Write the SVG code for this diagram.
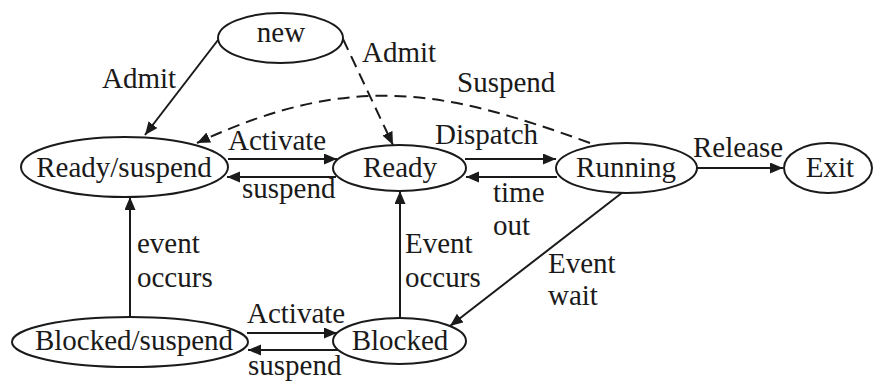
<svg xmlns="http://www.w3.org/2000/svg" width="873" height="383" viewBox="0 0 873 383">
<defs>
<marker id="ah" markerUnits="userSpaceOnUse" markerWidth="14" markerHeight="12" refX="13" refY="5.5" orient="auto">
<path d="M0,0 L13,5.5 L0,11 z" fill="#1a1a1a"/>
</marker>
<style>
.n{fill:#fff;stroke:#1a1a1a;stroke-width:2}
.t{font-family:"Liberation Serif","Times New Roman",serif;font-size:29px;fill:#1a1a1a}
.c{text-anchor:middle}
.e{fill:none;stroke:#1a1a1a;stroke-width:2;marker-end:url(#ah)}
.d{stroke-dasharray:12 7}
</style>
</defs>
<rect width="873" height="383" fill="#fff"/>
<g id="connectors">
<line class="e" x1="218" y1="40" x2="145" y2="135"/>
<line class="e d" x1="343" y1="39" x2="393" y2="145"/>
<path class="e d" d="M590,143 C449,92 355,69 197,143"/>
<line class="e" x1="228" y1="159" x2="337" y2="159"/>
<line class="e" x1="336" y1="177" x2="227" y2="177"/>
<line class="e" x1="465" y1="159" x2="556" y2="159"/>
<line class="e" x1="557" y1="177" x2="466" y2="177"/>
<line class="e" x1="697" y1="168" x2="783" y2="168"/>
<line class="e" x1="623" y1="192" x2="450" y2="326"/>
<line class="e" x1="400" y1="318" x2="400" y2="191"/>
<line class="e" x1="130" y1="317" x2="130" y2="197"/>
<line class="e" x1="247" y1="333" x2="337" y2="333"/>
<line class="e" x1="338" y1="350" x2="248" y2="350"/>
</g>
<g id="labels">
<text class="t" x="102" y="88">Admit</text>
<text class="t" x="362" y="62">Admit</text>
<text class="t" x="457" y="92">Suspend</text>
<text class="t" x="228" y="150">Activate</text>
<text class="t" x="242" y="198">suspend</text>
<text class="t" x="435" y="144">Dispatch</text>
<text class="t" x="693" y="157">Release</text>
<text class="t" x="493" y="202">time</text>
<text class="t" x="493" y="235">out</text>
<text class="t" x="548" y="273">Event</text>
<text class="t" x="548" y="305">wait</text>
<text class="t" x="405" y="253">Event</text>
<text class="t" x="405" y="287">occurs</text>
<text class="t" x="137" y="253">event</text>
<text class="t" x="137" y="287">occurs</text>
<text class="t" x="247" y="323">Activate</text>
<text class="t" x="248" y="375">suspend</text>
</g>
<g id="node-new"><ellipse class="n" cx="280.5" cy="38" rx="62.5" ry="25"/><text class="t c" x="281" y="42">new</text></g>
<g id="node-ready-suspend"><ellipse class="n" cx="124.5" cy="167" rx="103.5" ry="30"/><text class="t c" x="124" y="177">Ready/suspend</text></g>
<g id="node-ready"><ellipse class="n" cx="399.5" cy="168" rx="66.5" ry="23"/><text class="t c" x="400" y="177">Ready</text></g>
<g id="node-running"><ellipse class="n" cx="626.5" cy="168" rx="70.5" ry="25"/><text class="t c" x="626" y="177">Running</text></g>
<g id="node-exit"><ellipse class="n" cx="828" cy="168" rx="44" ry="25"/><text class="t c" x="830" y="177">Exit</text></g>
<g id="node-blocked-suspend"><ellipse class="n" cx="130" cy="342" rx="118" ry="25"/><text class="t c" x="134" y="350">Blocked/suspend</text></g>
<g id="node-blocked"><ellipse class="n" cx="399.5" cy="341" rx="66.5" ry="23"/><text class="t c" x="400" y="350">Blocked</text></g>
</svg>
